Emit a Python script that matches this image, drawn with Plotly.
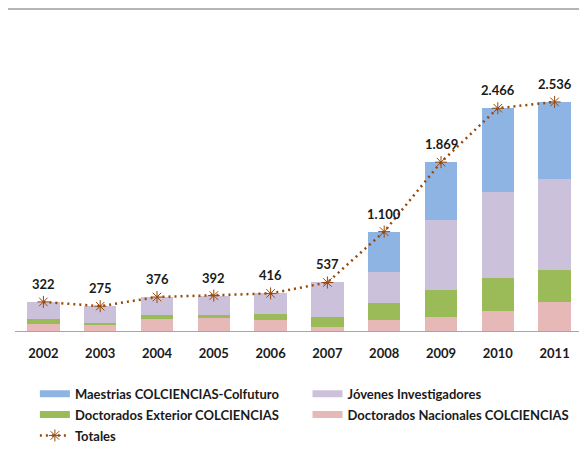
import plotly.graph_objects as go

# ====== Data ======
years = ["2002", "2003", "2004", "2005", "2006", "2007", "2008", "2009", "2010", "2011"]
doct_nacionales = [74, 74, 133, 140, 122, 48, 122, 155, 221, 321]
doct_exterior = [59, 11, 41, 40, 70, 104, 192, 302, 369, 358]
jovenes = [189, 190, 202, 212, 224, 385, 340, 772, 949, 1004]
maestrias = [0, 0, 0, 0, 0, 0, 446, 640, 927, 853]
totales = [322, 275, 376, 392, 416, 537, 1100, 1869, 2466, 2536]

# ====== Styles ======
C_BLUE = "#8EB4E3"
C_PURPLE = "#CCC1DA"
C_GREEN = "#9BBB59"
C_PINK = "#E6B9B8"
C_LINE = "#984807"
C_TEXT = "#1a1a1a"
FONT = "Lato"

# (name, values, colour, legend column, rank) - bottom of the stack first
series = [
    ("Doctorados Nacionales COLCIENCIAS", doct_nacionales, C_PINK, "legend2", 2),
    ("Doctorados Exterior COLCIENCIAS", doct_exterior, C_GREEN, "legend", 2),
    ("Jóvenes Investigadores", jovenes, C_PURPLE, "legend2", 1),
    ("Maestrias COLCIENCIAS-Colfuturo", maestrias, C_BLUE, "legend", 1),
]

fig = go.Figure()

for name, vals, col, leg, rank in series:
    fig.add_trace(go.Bar(
        x=years, y=vals, name=name,
        marker=dict(color=col, line=dict(width=0)),
        showlegend=False,
    ))
    # wide rectangle legend swatch, like the office chart
    fig.add_trace(go.Scatter(
        x=[None], y=[None], mode="lines", name=name,
        line=dict(color=col, width=7),
        legend=leg, legendrank=rank, legendgroup=name,
    ))

fig.add_trace(go.Scatter(
    x=years, y=totales, name="Totales",
    mode="lines+markers",
    line=dict(color=C_LINE, width=2.5, dash="2px,4px"),
    marker=dict(symbol="asterisk-open", size=10, color=C_LINE,
                line=dict(color=C_LINE, width=1)),
    legend="legend", legendrank=3, legendgroup="tot",
))

# total labels above each point (es-CO thousands separator);
# category index is used because "2002" would be read as a number
for idx, tot in enumerate(totales):
    fig.add_annotation(
        x=idx, y=tot, text=f"{tot:,}".replace(",", "."),
        showarrow=False, yshift=18,
        font=dict(family=FONT, size=13, color=C_TEXT, weight="bold"),
    )

# thin gray rule at the very top of the picture
fig.add_shape(type="line", xref="paper", yref="paper",
              x0=-0.1, x1=1.1, y0=1.188, y1=1.188,
              line=dict(color="#B4B4B4", width=2))

leg_font = dict(family=FONT, size=13, color=C_TEXT, weight="bold")

fig.update_layout(
    width=587, height=456,
    barmode="stack",
    bargap=0.43,
    plot_bgcolor="white",
    paper_bgcolor="white",
    margin=dict(l=7, r=12, t=52, b=133, autoexpand=False),
    font=dict(family=FONT, color=C_TEXT),
    xaxis=dict(
        type="category",
        range=[-0.5, len(years) - 0.5],
        showline=True, linecolor="#A6A6A6", linewidth=1,
        ticks="", showgrid=False, ticklabelstandoff=10,
        tickfont=dict(family=FONT, size=13, color=C_TEXT, weight="bold"),
    ),
    yaxis=dict(range=[0, 3000], visible=False, showgrid=False),
    legend=dict(x=0.035, y=-0.176, xanchor="left", yanchor="top",
                font=leg_font, traceorder="grouped", tracegroupgap=1,
                bgcolor="rgba(0,0,0,0)"),
    legend2=dict(x=0.515, y=-0.176, xanchor="left", yanchor="top",
                 font=leg_font, traceorder="grouped", tracegroupgap=1,
                 bgcolor="rgba(0,0,0,0)"),
)

fig.write_html("out.html")
